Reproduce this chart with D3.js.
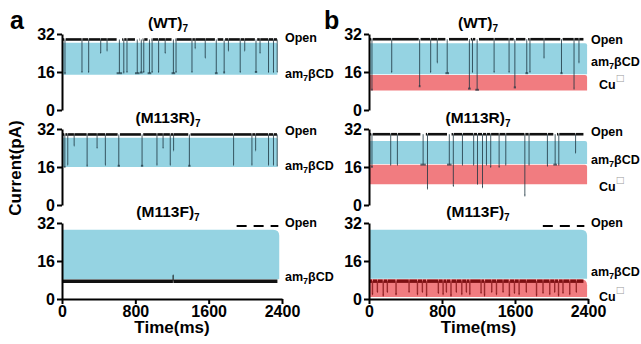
<!DOCTYPE html>
<html>
<head>
<meta charset="utf-8">
<script src="https://cdnjs.cloudflare.com/ajax/libs/d3/7.8.5/d3.min.js"></script>
<style>
  body { margin: 0; background: #fff; }
  svg { font-family: "Liberation Sans", Arial, sans-serif; font-weight: bold; }
</style>
</head>
<body>
<svg id="chart" width="641" height="344"></svg>
<script>
// ---- data ----
const timeTicks = [0, 800, 1600, 2400];
const currentTicks = [0, 16, 32];
const titles = ['WT', 'M113R', 'M113F'];

// baseline current of each trace (pA): rows WT, M113R, M113F
const baseA = [29.7, 29.7, 7.5];
const baseB = [29.8, 29.8, 7.5];
const traceEnd = 2350;

// shaded bands [low, high] pA
const blueA = [[14.8, 28.3], [16.0, 28.3], [8.3, 29.2]];
const blueB = [[15.1, 28.1], [17.3, 26.9], [8.5, 29.2]];
const redB = [[8.2, 14.7], [8.7, 16.9], [0.8, 8.3]];
const bandEndA = [2350, 2350, 2370];
const bandEndB = [2390, 2390, 2390];

// blocking events: [start ms, duration ms, level pA]
const wtA = [[25, 15, 15.5], [214, 8, 16], [287, 8, 16], [420, 5, 24], [489, 5, 25], [596, 60, 15.5],
  [669, 10, 15.8], [705, 8, 16], [796, 50, 15.5], [850, 30, 15.8], [887, 10, 16], [934, 40, 15.5],
  [978, 10, 16], [1050, 8, 16], [1123, 5, 24], [1195, 40, 15.5], [1239, 10, 16], [1414, 8, 16],
  [1450, 5, 26], [1560, 5, 22], [1668, 30, 15.5], [1759, 20, 15.8], [1813, 5, 25], [1940, 8, 16],
  [1991, 5, 25], [2104, 25, 16], [2158, 5, 24], [2249, 8, 16], [2303, 8, 16], [2345, 5, 16]];
const m113rA = [[25, 12, 16], [60, 6, 17], [130, 5, 25], [269, 10, 16.5], [380, 5, 24], [469, 8, 17],
  [607, 25, 16.5], [861, 25, 16.5], [1032, 8, 17], [1100, 5, 24], [1177, 8, 17], [1215, 5, 23],
  [1377, 25, 16.5], [1868, 8, 17], [2068, 8, 17], [2110, 5, 23], [2249, 8, 17], [2303, 8, 17], [2345, 5, 16.5]];
const m113fA = [[1210, 5, 10]];
const wtB = [[25, 15, 8.5], [245, 8, 16], [545, 20, 10], [672, 8, 16], [745, 6, 20], [837, 40, 15.5],
  [1085, 30, 9], [1130, 8, 16], [1165, 40, 8.5], [1367, 8, 16], [1531, 8, 16], [1586, 25, 9.5],
  [1714, 30, 15.5], [1760, 8, 16], [1915, 6, 22], [2097, 25, 15.5], [2243, 8, 9], [2298, 6, 20]];
const m113rB = [[25, 15, 16], [234, 8, 17], [307, 8, 17], [563, 60, 17], [636, 10, 7], [855, 50, 17],
  [920, 8, 8], [1020, 8, 17], [1143, 8, 17], [1184, 10, 9], [1239, 10, 7.5], [1283, 8, 17],
  [1330, 8, 16], [1422, 8, 16], [1495, 8, 17], [1703, 10, 4], [1750, 8, 17], [1951, 8, 16.5],
  [2020, 40, 17], [2075, 10, 17], [2261, 6, 22]];
const m113fB = [[33, 10, 2], [88, 8, 3], [150, 12, 1.5], [197, 8, 3], [289, 15, 2], [435, 8, 3],
  [526, 10, 2], [581, 8, 3], [625, 12, 1.5], [756, 8, 2.5], [807, 10, 2], [844, 8, 3], [891, 15, 1.5],
  [953, 8, 3], [1012, 10, 2], [1063, 8, 3], [1100, 10, 2], [1224, 8, 2.5], [1260, 12, 1.5],
  [1341, 8, 3], [1392, 10, 2], [1465, 8, 3], [1531, 15, 1.5], [1590, 8, 2.5], [1640, 10, 2],
  [1720, 8, 3], [1830, 12, 1.5], [1903, 8, 2.5], [1976, 10, 2], [2031, 8, 3], [2071, 12, 1.5],
  [2122, 8, 2.5], [2195, 10, 2], [2268, 8, 3]];
const openDash = [1905, 2360, 30.7];

// ---- layout ----
const svg = d3.select('#chart');
const rowTop = [34, 129, 223];
const rowH = 76;
const cols = [
  {x0: 62, x1: 282, base: baseA, blue: blueA, red: null, bandEnd: bandEndA, events: [wtA, m113rA, m113fA], title: 'a', titleX: 168},
  {x0: 369, x1: 588, base: baseB, blue: blueB, red: redB, bandEnd: bandEndB, events: [wtB, m113rB, m113fB], title: 'b', titleX: 478}
];
const blue = '#95d3e2';
const red = '#f17c80';
const fontFam = '"Liberation Sans", Arial, sans-serif';

// each event drawn as one thin drop, plus a short dwell mark at its level
function dropLines(events, base) {
  return events.map(e => [[e[0] + e[1] / 2, base], [e[0] + e[1] / 2, e[2]]]);
}

function dwellMarks(events) {
  return events.map(e => [[e[0], e[2]], [e[0] + e[1], e[2]]]);
}

function openSegments(events, base) {
  const segs = [];
  let t = 0;
  events.forEach(e => {
    if (e[0] - t > 2) segs.push([[t, base], [e[0], base]]);
    t = e[0] + e[1];
  });
  segs.push([[t, base], [traceEnd, base]]);
  return segs;
}

function roundedTopRight(x, y, r) {
  return (lo, hi, t1) => {
    const xa = x(0) + 1, xb = x(t1), ya = y(hi), yb = y(lo);
    return `M${xa},${yb}V${ya}H${xb - r}Q${xb},${ya} ${xb},${ya + r}V${yb}Z`;
  };
}

cols.forEach((c, ci) => {
  const x = d3.scaleLinear().domain([0, 2400]).range([c.x0, c.x1]);
  svg.append('text').attr('x', ci === 0 ? 10 : 324).attr('y', 29)
    .attr('font-size', 25).text(c.title);

  rowTop.forEach((top, ri) => {
    const y = d3.scaleLinear().domain([0, 32]).range([top + rowH, top]);
    const g = svg.append('g');
    const lastRow = ri === 2;

    // title
    const tt = g.append('text').attr('x', c.titleX).attr('y', top - 6)
      .attr('text-anchor', 'middle').attr('font-size', 15.5);
    tt.append('tspan').text(`(${titles[ri]})`);
    tt.append('tspan').attr('font-size', 10).attr('dy', 4).text('7');

    // bands
    const band = roundedTopRight(x, y, lastRow ? 6 : 2);
    g.append('path').attr('d', band(c.blue[ri][0], c.blue[ri][1], c.bandEnd[ri])).attr('fill', blue);
    if (c.red) {
      g.append('path').attr('d', band(c.red[ri][0], c.red[ri][1], c.bandEnd[ri])).attr('fill', red);
    }

    // trace
    const traceColor = (c.red && lastRow) ? '#7d0f12' : '#111';
    const line = d3.line().x(d => x(d[0])).y(d => y(d[1]));
    const ev = c.events[ri];
    g.selectAll('.drop').data(dropLines(ev, c.base[ri])).join('path')
      .attr('d', line).attr('fill', 'none').attr('stroke', lastRow ? traceColor : '#1d3440')
      .attr('stroke-width', lastRow ? 1.4 : 1).attr('stroke-opacity', lastRow ? 0.75 : 0.8);
    g.selectAll('.dwell').data(dwellMarks(ev)).join('path')
      .attr('d', line).attr('fill', 'none').attr('stroke', lastRow ? traceColor : '#1d3440')
      .attr('stroke-width', 2).attr('stroke-opacity', 0.7);
    g.selectAll('.seg').data(openSegments(ev, c.base[ri])).join('path')
      .attr('d', line).attr('fill', 'none').attr('stroke', traceColor)
      .attr('stroke-width', lastRow ? 3.4 : 2.6);

    // dashed open level for M113F
    if (lastRow) {
      g.append('line').attr('x1', x(openDash[0])).attr('x2', x(openDash[1]))
        .attr('y1', y(openDash[2])).attr('y2', y(openDash[2]))
        .attr('stroke', '#000').attr('stroke-width', 2).attr('stroke-dasharray', '10,7');
    }

    // y axis
    const ya = g.append('g').attr('transform', `translate(${c.x0},0)`)
      .call(d3.axisLeft(y).tickValues(currentTicks).tickSize(5).tickSizeOuter(0).tickPadding(2));
    ya.select('.domain').attr('stroke-width', 2);
    ya.selectAll('.tick line').attr('stroke-width', 2);
    ya.selectAll('.tick text').attr('font-size', 16).attr('font-weight', 'bold').attr('fill', '#000')
      .attr('font-family', fontFam);

    if (lastRow) {
      const xa = g.append('g').attr('transform', `translate(0,${top + rowH})`)
        .call(d3.axisBottom(x).tickValues(timeTicks).tickFormat(d3.format('d'))
          .tickSize(5).tickSizeOuter(0).tickPadding(2));
      xa.select('.domain').attr('stroke-width', 2);
      xa.selectAll('.tick line').attr('stroke-width', 2);
      xa.selectAll('.tick text').attr('font-size', 16).attr('font-weight', 'bold').attr('fill', '#000')
        .attr('font-family', fontFam);
      svg.append('text').attr('x', (c.x0 + c.x1) / 2).attr('y', 333)
        .attr('text-anchor', 'middle').attr('font-size', 17).text('Time(ms)');
    }

    // state labels
    const lx = c.x1 + 3;
    const openY = ci === 0 ? [42, 135, 227] : [44, 136, 227];
    const amY = ci === 0 ? [78, 170, 281] : [66, 164, 276];
    const cuY = [89, 191, 301];
    g.append('text').attr('x', lx).attr('y', openY[ri]).attr('font-size', 12.5).text('Open');
    const am = g.append('text').attr('x', lx).attr('y', amY[ri]).attr('font-size', 12.5);
    am.append('tspan').text('am');
    am.append('tspan').attr('font-size', 9).attr('dy', 3).text('7');
    am.append('tspan').attr('dy', -3).text('βCD');
    if (c.red) {
      const cu = g.append('text').attr('x', lx + 8).attr('y', cuY[ri]).attr('font-size', 12.5);
      cu.append('tspan').text('Cu');
      cu.append('tspan').attr('font-size', 12).attr('font-weight', 'normal').attr('fill', '#999')
        .attr('dy', -7).attr('dx', 1).text('□');
    }
  });
});

svg.append('text').attr('transform', 'translate(21,168) rotate(-90)')
  .attr('text-anchor', 'middle').attr('font-size', 17).text('Current(pA)');
</script>
</body>
</html>
